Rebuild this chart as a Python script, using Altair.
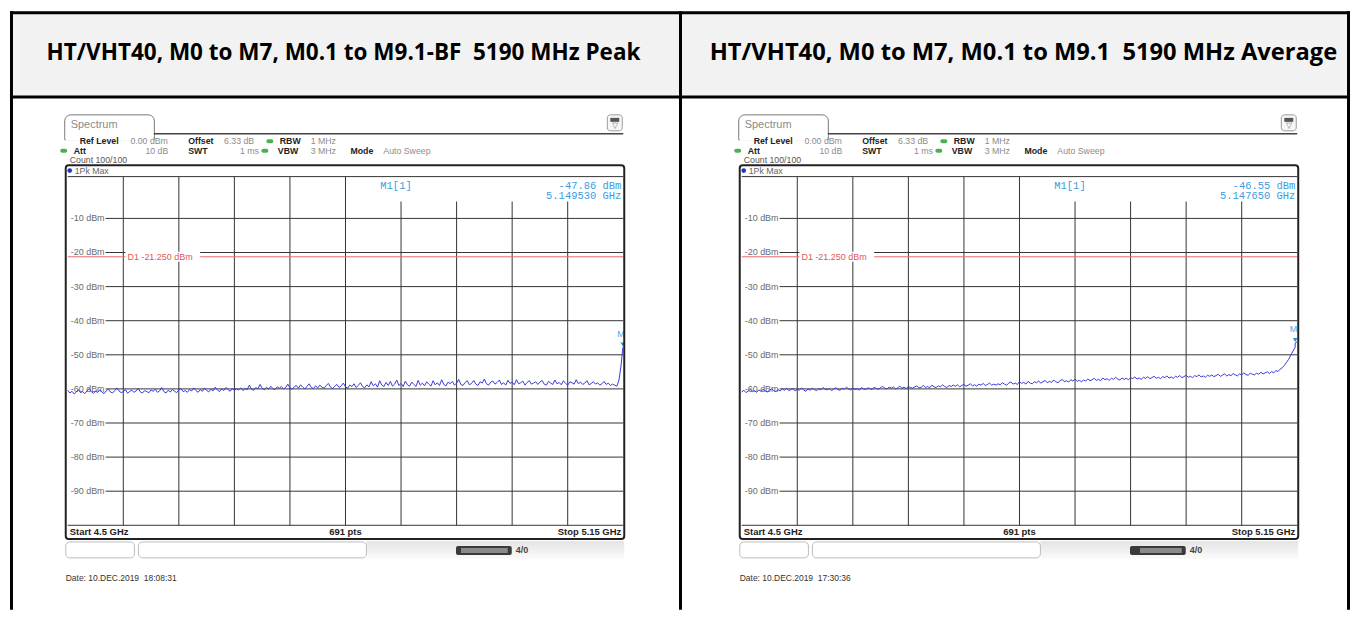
import altair as alt
import pandas as pd

# ---------------- data ----------------
TITLES = [
    "HT/VHT40, M0 to M7, M0.1 to M9.1-BF\u00a0\u00a05190 MHz Peak",
    "HT/VHT40, M0 to M7, M0.1 to M9.1\u00a0\u00a05190 MHz Average",
]
F_START, F_STOP, F_STEP = 4.5, 5.15, 0.0025

PEAK_LEVELS = [
    -60.4, -61.2, -60.7, -61.5, -60.9, -60.2, -61.1, -60.8, -61.4, -60.6, -59.9, -60.8, -61.3, -60.7, -61.0, -60.3, -60.9, -61.4, -60.6, -60.1,
    -60.9, -61.2, -60.5, -59.7, -60.6, -61.1, -60.8, -60.2, -61.3, -60.7, -60.4, -61.0, -60.6, -59.8, -60.9, -61.2, -60.5, -60.8, -61.1, -60.3,
    -60.7, -60.1, -61.0, -60.6, -59.6, -60.8, -61.2, -60.4, -60.9, -60.2, -60.7, -61.1, -60.3, -59.9, -60.8, -60.5, -61.0, -60.2, -60.6, -59.7,
    -60.5, -61.0, -60.2, -60.7, -59.8, -60.4, -60.9, -60.1, -60.6, -59.5, -60.3, -60.8, -60.0, -60.5, -59.6, -60.2, -60.7, -59.9, -60.4, -60.0,
    -60.3, -59.7, -60.5, -59.9, -60.2, -58.9, -60.1, -60.4, -59.6, -60.0, -58.7, -59.8, -60.3, -59.5, -60.1, -59.2, -59.9, -60.2, -59.4, -59.8,
    -59.3, -60.0, -59.6, -58.6, -59.7, -60.1, -59.4, -59.0, -59.8, -58.8, -59.5, -60.0, -59.2, -58.5, -59.6, -59.9, -59.1, -59.7, -58.9, -59.5,
    -59.8, -59.0, -58.4, -59.5, -59.9, -59.2, -58.7, -59.6, -59.1, -58.3, -59.4, -59.8, -58.9, -59.3, -58.5, -59.6, -59.0, -58.2, -59.3, -59.7,
    -58.8, -59.4, -57.9, -59.1, -58.5, -59.5, -57.6, -58.9, -59.3, -58.1, -59.0, -57.8, -59.2, -58.6, -57.4, -59.0, -58.4, -59.3, -57.7, -58.8,
    -59.2, -58.0, -58.7, -59.3, -57.5, -58.9, -58.3, -59.1, -57.9, -58.6, -59.2, -57.6, -58.8, -58.2, -59.0, -57.3, -58.7, -59.1, -58.0, -58.5,
    -57.8, -58.9, -58.3, -57.2, -58.7, -59.0, -58.1, -57.6, -58.8, -58.4, -57.5, -58.6, -59.0, -57.9, -58.3, -57.1, -58.5, -58.9, -58.0, -57.7,
    -58.6, -58.1, -57.4, -58.7, -58.2, -58.9, -57.5, -58.4, -58.0, -58.8, -57.3, -58.5, -58.2, -57.7, -58.9, -58.1, -57.6, -58.6, -58.3, -57.9,
    -58.7, -58.0, -57.5, -58.6, -58.9, -57.8, -58.3, -58.7, -57.4, -58.5, -58.1, -58.8, -57.6, -58.4, -58.9, -57.9, -58.2, -58.6, -57.3, -58.5,
    -58.0, -58.7, -58.3, -57.6, -58.8, -58.4, -57.9, -58.6, -58.2, -58.9, -58.5, -57.8, -58.7, -58.3, -59.0, -58.6, -58.9, -59.2, -57.4, -53.0,
]
AVG_LEVELS = [
    -60.9, -60.4, -61.1, -60.6, -60.2, -60.8, -60.5, -61.0, -60.3, -60.7, -60.1, -60.6, -60.9, -60.3, -60.0, -60.5, -60.8, -60.2, -60.6, -60.0,
    -60.4, -59.8, -60.5, -60.2, -59.9, -60.6, -60.1, -60.4, -59.7, -60.3, -60.7, -60.0, -60.4, -59.8, -60.2, -60.5, -60.0, -60.3, -59.6, -60.1,
    -60.3, -59.9, -60.5, -60.1, -59.6, -60.2, -60.4, -59.8, -60.1, -59.5, -60.0, -60.3, -59.7, -60.2, -59.9, -60.4, -59.6, -60.0, -60.2, -59.7,
    -59.9, -60.2, -59.5, -59.9, -60.1, -59.6, -59.3, -59.8, -60.0, -59.5, -59.8, -59.4, -60.0, -59.7, -59.2, -59.8, -59.5, -59.9, -59.3, -59.6,
    -59.8, -59.4, -59.1, -59.7, -59.5, -59.0, -59.6, -59.3, -59.7, -58.9, -59.4, -59.6, -59.1, -59.4, -58.8, -59.3, -59.6, -59.0, -59.3, -58.9,
    -59.2, -58.8, -59.4, -59.0, -58.7, -59.2, -58.9, -58.5, -59.1, -58.8, -59.2, -58.6, -58.9, -58.4, -59.0, -58.7, -58.3, -58.9, -58.6, -58.9,
    -58.5, -58.8, -58.2, -58.6, -58.9, -58.3, -58.0, -58.6, -58.3, -58.7, -57.9, -58.4, -58.1, -58.6, -57.8, -58.3, -58.5, -57.9, -58.2, -57.7,
    -58.3, -57.9, -57.5, -58.2, -57.8, -58.1, -57.4, -57.9, -58.2, -57.6, -57.2, -57.9, -57.6, -58.0, -57.3, -57.7, -57.1, -57.8, -57.5, -57.9,
    -57.4, -57.7, -57.1, -57.6, -57.3, -56.9, -57.5, -57.2, -57.6, -56.8, -57.3, -57.0, -57.5, -56.9, -57.2, -56.6, -57.1, -57.4, -56.8, -57.2,
    -56.9, -57.3, -56.7, -57.0, -56.5, -57.1, -56.8, -57.2, -56.6, -56.9, -56.4, -57.0, -56.7, -56.3, -56.9, -56.6, -57.0, -56.4, -56.7, -56.2,
    -56.8, -56.5, -56.9, -56.3, -56.6, -56.1, -56.7, -56.4, -56.0, -56.6, -56.3, -56.7, -56.1, -56.4, -55.9, -56.5, -56.2, -56.6, -56.0, -56.3,
    -55.9, -56.4, -56.1, -55.7, -56.3, -56.0, -55.6, -56.2, -55.8, -56.1, -55.5, -55.9, -56.2, -55.6, -55.9, -55.3, -55.8, -56.0, -55.4, -55.7,
    -55.9, -55.4, -55.7, -55.1, -55.6, -55.3, -55.0, -55.5, -54.9, -55.3, -54.6, -54.9, -54.2, -53.8, -53.1, -52.2, -51.3, -50.1, -48.9, -47.8,
]
TRACES = [PEAK_LEVELS, AVG_LEVELS]
MARKER_F = [5.14953, 5.14765]
MARKER_V = [-47.86, -46.55]
END_POINTS = [[], [(5.15, -46.1)]]
MARKER_LEVEL_TXT = ["-47.86 dBm", "-46.55 dBm"]
MARKER_FREQ_TXT = ["5.149530 GHz", "5.147650 GHz"]
DATES = ["Date: 10.DEC.2019\u00a0\u00a018:08:31", "Date: 10.DEC.2019\u00a0\u00a017:30:36"]
Y_TICKS = [-10, -20, -30, -40, -50, -60, -70, -80, -90]
Y_LABELS = [f"{v} dBm" for v in Y_TICKS]
D1_LEVEL = -21.25
D1_TEXT = "D1 -21.250 dBm"
ROW1, ROW2, ROW3 = 138.5, 148, 157
SETTINGS_BOLD = [("Ref Level", 78, ROW1), ("Offset", 187, ROW1), ("RBW", 279, ROW1),
                 ("Att", 72, ROW2), ("SWT", 187, ROW2), ("VBW", 277, ROW2), ("Mode", 350, ROW2)]
SETTINGS_GRAY = [("0.00 dBm", 129, ROW1), ("6.33 dB", 223, ROW1), ("1 MHz", 310, ROW1),
                 ("1 ms", 239, ROW2), ("3 MHz", 310, ROW2), ("Auto Sweep", 383, ROW2)]

# ---------------- layout (left-panel page coordinates) ----------------
H = 601
WIDTHS = [672, 674]
DX = [0, 5]
TITLE_X = [335, 346]
TITLE_SIZE = [22.6, 23.8]
GX0, GX1 = 66, 624          # grid left/right
GY0, GY1 = 181.75, 524.25   # 0 dBm / -100 dBm
FRAME_TOP, PK_ROW, BAR_LINE, FRAME_BOT = 162.5, 168, 174, 538
FONT = "Liberation Sans"
one = pd.DataFrame({"a": [0]})


def rect(x0, y0, x1, y1, **kw):
    return alt.Chart(one).mark_rect(**kw).encode(
        x=alt.value(x0), x2=alt.value(x1), y=alt.value(y0), y2=alt.value(y1))


def rule(x0, y0, x1, y1, **kw):
    return alt.Chart(one).mark_rule(**kw).encode(
        x=alt.value(x0), x2=alt.value(x1), y=alt.value(y0), y2=alt.value(y1))


def text(x, y, t, **kw):
    kw.setdefault("font", FONT)
    kw.setdefault("baseline", "middle")
    kw.setdefault("align", "left")
    return alt.Chart(one).mark_text(text=t, **kw).encode(x=alt.value(x), y=alt.value(y))


def panel(i):
    width = WIDTHS[i]
    dx = DX[i]
    X = lambda p: p - 8 + dx
    Y = lambda p: p - 8
    fscale = alt.Scale(domain=[F_START, F_STOP], range=[X(GX0), X(GX1)], nice=False, zero=False)
    vscale = alt.Scale(domain=[-100, 0], range=[Y(GY1), Y(GY0)], nice=False, zero=False)
    L = []
    # ---- table cell ----
    L.append(rect(0, 0, width, 86, color="#f2f2f2"))
    L.append(rule(0, 1.5, width, 1.5, color="black", strokeWidth=3))
    L.append(rule(0, 86, width, 86, color="black", strokeWidth=3))
    L.append(rule(1.5, 0, 1.5, H, color="black", strokeWidth=3))
    if i == 1:
        L.append(rule(width - 1.5, 0, width - 1.5, H, color="black", strokeWidth=3))
    L.append(text(TITLE_X[i], 42, TITLES[i], font="Open Sans", fontSize=TITLE_SIZE[i],
                  fontWeight="bold", align="center", color="black"))
    # ---- tab & icon ----
    L.append(rect(X(63), Y(112), X(153), Y(137), fill="white", stroke="#777", strokeWidth=1,
                  cornerRadiusTopLeft=6, cornerRadiusTopRight=6))
    L.append(rect(X(64), Y(131), X(152.5), Y(138), color="white"))
    L.append(rule(X(152.5), Y(131), X(624), Y(131), color="#444", strokeWidth=1.5))
    L.append(text(X(69), Y(122), "Spectrum", fontSize=11, color="#8a8a8a"))
    L.append(rect(X(608), Y(112), X(623), Y(128), fill="#f7f7f7", stroke="#9a9a9a",
                  strokeWidth=1, cornerRadius=3))
    L.append(rect(X(611), Y(115), X(620), Y(119), color="#555"))
    L.append(text(X(615.5), Y(123.5), "\u25bd", fontSize=8, color="#777", align="center"))
    # ---- settings ----
    for t, x, y in SETTINGS_BOLD:
        L.append(text(X(x), Y(y), t, fontSize=8.8, fontWeight="bold", color="#222"))
    for t, x, y in SETTINGS_GRAY:
        L.append(text(X(x), Y(y), t, fontSize=8.8, color="#8c8c8c"))
    L.append(text(X(167), Y(ROW2), "10 dB", fontSize=8.8, color="#8c8c8c", align="right"))
    L.append(text(X(68), Y(ROW3), "Count 100/100", fontSize=8.8, color="#555"))
    for gx, gy in [(62, ROW2), (269, ROW1), (264, ROW2)]:
        L.append(rect(X(gx - 3.5), Y(gy - 2), X(gx + 3.5), Y(gy + 2), color="#4caf50", cornerRadius=2))
    # ---- diagram ----
    L.append(rect(X(64), Y(FRAME_TOP), X(625), Y(FRAME_BOT), color="white"))
    L.append(alt.Chart(one).mark_point(shape="circle", filled=True, size=22, color="#2233cc",
                                       opacity=1).encode(x=alt.value(X(68)), y=alt.value(Y(PK_ROW))))
    L.append(text(X(73), Y(PK_ROW), "1Pk Max", fontSize=8.8, color="#666"))
    L.append(rule(X(GX0), Y(BAR_LINE), X(GX1), Y(BAR_LINE), color="#333", strokeWidth=1))
    # vertical grid lines
    vf = [F_START + k * (F_STOP - F_START) / 10 for k in range(1, 10)]
    vdf = pd.DataFrame({"f": vf, "top": [Y(BAR_LINE) if k <= 5 else Y(199) for k in range(1, 10)]})
    L.append(alt.Chart(vdf).mark_rule(color="#333", strokeWidth=1).encode(
        x=alt.X("f:Q", scale=fscale, axis=None), y=alt.Y("top:Q", scale=None), y2=alt.value(Y(GY1))))
    # horizontal grid lines
    hdf = pd.DataFrame({"v": Y_TICKS, "lab": Y_LABELS})
    L.append(alt.Chart(hdf).mark_rule(color="#333", strokeWidth=1).encode(
        y=alt.Y("v:Q", scale=vscale, axis=None), x=alt.value(X(104)), x2=alt.value(X(GX1))))
    edf = pd.DataFrame({"v": [-100]})
    L.append(alt.Chart(edf).mark_rule(color="#333", strokeWidth=1).encode(
        y=alt.Y("v:Q", scale=vscale, axis=None), x=alt.value(X(GX0)), x2=alt.value(X(GX1))))
    L.append(alt.Chart(hdf).mark_text(font=FONT, fontSize=9, color="#6a6a6a", align="left",
                                      baseline="middle").encode(
        y=alt.Y("v:Q", scale=vscale, axis=None), x=alt.value(X(69)), text="lab:N"))
    # D1 line
    d1 = pd.DataFrame({"v": [D1_LEVEL], "t": [D1_TEXT]})
    L.append(alt.Chart(d1).mark_rule(color="#e86a6a", strokeWidth=1).encode(
        y=alt.Y("v:Q", scale=vscale, axis=None), x=alt.value(X(GX0)), x2=alt.value(X(GX1))))
    d1y = Y(GY0 + (0 - D1_LEVEL) / 100 * (GY1 - GY0))
    L.append(rect(X(124), d1y - 5, X(199), d1y + 5, color="white"))
    L.append(alt.Chart(d1).mark_text(font=FONT, fontSize=9, color="#e05555", align="left",
                                     baseline="middle").encode(
        y=alt.Y("v:Q", scale=vscale, axis=None), x=alt.value(X(126)), text="t:N"))
    # marker info
    L.append(text(X(380), Y(183), "M1[1]", font="Liberation Mono", fontSize=10.5, color="#3d9be0"))
    L.append(text(X(622), Y(183), MARKER_LEVEL_TXT[i], font="Liberation Mono", fontSize=10.5,
                  color="#3d9be0", align="right"))
    L.append(text(X(622), Y(194), MARKER_FREQ_TXT[i], font="Liberation Mono", fontSize=10.5,
                  color="#3d9be0", align="right"))
    # trace
    lv = TRACES[i]
    fr = [round(F_START + k * F_STEP, 5) for k in range(len(lv))]
    fr = fr + [MARKER_F[i]] + [p[0] for p in END_POINTS[i]]
    lv = lv + [MARKER_V[i]] + [p[1] for p in END_POINTS[i]]
    tdf = pd.DataFrame({"f": fr, "v": lv})
    L.append(alt.Chart(tdf).mark_line(color="#3a3ad8", strokeWidth=1).encode(
        x=alt.X("f:Q", scale=fscale, axis=None), y=alt.Y("v:Q", scale=vscale, axis=None)))
    mdf = pd.DataFrame({"f": [MARKER_F[i]], "v": [MARKER_V[i]]})
    L.append(alt.Chart(mdf).mark_point(shape="triangle-down", filled=True, size=22, color="#2a8ad4",
                                       opacity=1, yOffset=-3).encode(
        x=alt.X("f:Q", scale=fscale, axis=None), y=alt.Y("v:Q", scale=vscale, axis=None)))
    L.append(alt.Chart(mdf).mark_text(text="M", font=FONT, fontSize=9, color="#4aa8e8",
                                      align="right", baseline="middle", dx=2, dy=-14).encode(
        x=alt.X("f:Q", scale=fscale, axis=None), y=alt.Y("v:Q", scale=vscale, axis=None)))
    # start/stop row
    L.append(text(X(68), Y(531), "Start 4.5 GHz", fontSize=9.5, fontWeight="bold", color="#222"))
    L.append(text(X(345), Y(531), "691 pts", fontSize=9.5, fontWeight="bold", color="#222",
                  align="center"))
    L.append(text(X(622), Y(531), "Stop 5.15 GHz", fontSize=9.5, fontWeight="bold", color="#222",
                  align="right"))
    # frame
    L.append(rect(X(64), Y(FRAME_TOP), X(625), Y(FRAME_BOT), fill="white", fillOpacity=0,
                  stroke="#222", strokeWidth=2, cornerRadius=3))
    # bottom bar
    grad = alt.Gradient(gradient="linear", x1=0, y1=0, x2=0, y2=1,
                        stops=[alt.GradientStop(color="#e4e4e4", offset=0),
                               alt.GradientStop(color="#fbfbfb", offset=1)])
    L.append(rect(X(366), Y(540), X(625), Y(558), color=grad))
    L.append(rect(X(64), Y(541), X(133), Y(557), fill="white", stroke="#bbb", cornerRadius=4))
    L.append(rect(X(137), Y(541), X(366), Y(557), fill="white", stroke="#bbb", cornerRadius=4))
    L.append(rect(X(456), Y(545), X(512), Y(554), color="#3a3a3a", cornerRadius=2))
    L.append(rect(X(461 if i == 0 else 466), Y(547), X(508), Y(552), color="#8a8a8a"))
    L.append(text(X(516), Y(549.5), "4/0", fontSize=9, fontWeight="bold", color="#444"))
    # date
    L.append(text(X(64), Y(577), DATES[i], fontSize=8.5, color="#333"))
    return alt.layer(*L).resolve_scale(x="independent", y="independent").properties(
        width=width, height=H)


chart = alt.hconcat(panel(0), panel(1), spacing=0, bounds="flush").configure_view(
    stroke=None).properties(padding=0)
chart.save("out.html", embed_options={"renderer": "svg", "actions": False})
